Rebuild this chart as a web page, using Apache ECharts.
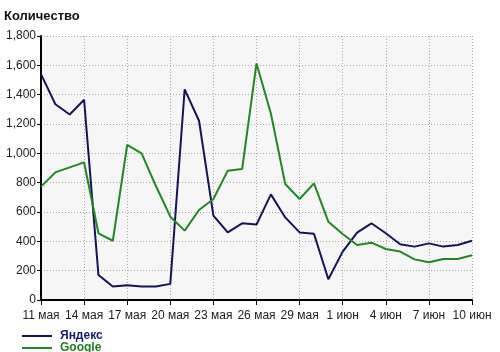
<!DOCTYPE html>
<html>
<head>
<meta charset="utf-8">
<script src="https://cdn.jsdelivr.net/npm/echarts@6/dist/echarts.min.js"></script>
<style>
  html, body { margin: 0; padding: 0; background: #fff; }
  #chart { width: 500px; height: 352px; }
</style>
</head>
<body>
<div id="chart"></div>
<script>
const days = [
  '11 мая', '12 мая', '13 мая', '14 мая', '15 мая', '16 мая', '17 мая', '18 мая', '19 мая', '20 мая',
  '21 мая', '22 мая', '23 мая', '24 мая', '25 мая', '26 мая', '27 мая', '28 мая', '29 мая', '30 мая',
  '31 мая', '1 июн', '2 июн', '3 июн', '4 июн', '5 июн', '6 июн', '7 июн', '8 июн', '9 июн', '10 июн'
]
const yandex = [
  1540, 1335, 1265, 1365, 170, 92, 100, 92, 92, 110,
  1436, 1222, 575, 461, 523, 514, 720, 563, 461, 452,
  141, 330, 459, 523, 455, 380, 364, 386, 364, 375, 404
]
const google = [
  773, 870, 904, 938, 455, 404, 1057, 1000, 777, 568,
  473, 614, 689, 882, 893, 1613, 1272, 791, 689, 795,
  534, 450, 375, 391, 348, 330, 277, 257, 280, 280, 305
]
const yTicks = [0, 200, 400, 600, 800, 1000, 1200, 1400, 1600, 1800]

const font = 'Liberation Sans'
const legendText = { fontFamily: font, fontSize: 12, fontWeight: 'bold', padding: [0, 0, 0, 3] }
let chart = echarts.init(document.getElementById('chart'))
var option = {
  animation: false,
  backgroundColor: '#ffffff',
  title: {
    text: 'Количество',
    left: 4,
    top: 10,
    padding: 0,
    textStyle: { fontFamily: font, fontSize: 13, fontWeight: 'bold', color: '#111' }
  },
  legend: [
    {
      left: 22,
      top: 330,
      padding: 0,
      itemWidth: 30,
      itemHeight: 2,
      itemGap: 5,
      icon: 'rect',
      data: [{ name: 'Яндекс', textStyle: { color: '#1a1a6a' } }],
      textStyle: legendText
    },
    {
      left: 22,
      top: 342,
      padding: 0,
      itemWidth: 30,
      itemHeight: 2,
      icon: 'rect',
      data: [{ name: 'Google', textStyle: { color: '#1b7f1b' } }],
      textStyle: legendText
    }
  ],
  grid: {
    left: 41,
    right: 28,
    top: 36,
    bottom: 52,
    show: true,
    backgroundColor: '#f6f6f6',
    borderWidth: 0
  },
  xAxis: {
    type: 'category',
    boundaryGap: false,
    data: days,
    axisLine: { lineStyle: { color: '#000', width: 2 } },
    axisTick: { interval: 2, length: 5, lineStyle: { color: '#000', width: 1 } },
    axisLabel: { interval: 2, color: '#222', fontFamily: font, fontSize: 12, margin: 10 },
    splitLine: { show: true, interval: 2, lineStyle: { color: '#aaa', type: [1, 2], width: 1 } }
  },
  yAxis: {
    type: 'value',
    min: 0,
    max: 1800,
    interval: 200,
    axisLine: { show: true, lineStyle: { color: '#000', width: 2 } },
    axisTick: { show: true, length: 4, lineStyle: { color: '#000', width: 1 } },
    axisLabel: {
      color: '#222',
      fontFamily: font,
      fontSize: 12,
      margin: 5,
      formatter: function (v) { return yTicks.indexOf(v) >= 0 ? v.toLocaleString('en-US') : '' }
    },
    splitLine: { show: true, lineStyle: { color: '#aaa', type: [1, 2], width: 1 } }
  },
  series: [
    {
      name: 'Яндекс',
      type: 'line',
      data: yandex,
      symbol: 'none',
      color: '#14145a',
      lineStyle: { width: 2, color: '#14145a' }
    },
    {
      name: 'Google',
      type: 'line',
      data: google,
      symbol: 'none',
      color: '#1e8a1e',
      lineStyle: { width: 2, color: '#1e8a1e' }
    }
  ]
}
chart.setOption(option)
</script>
</body>
</html>
